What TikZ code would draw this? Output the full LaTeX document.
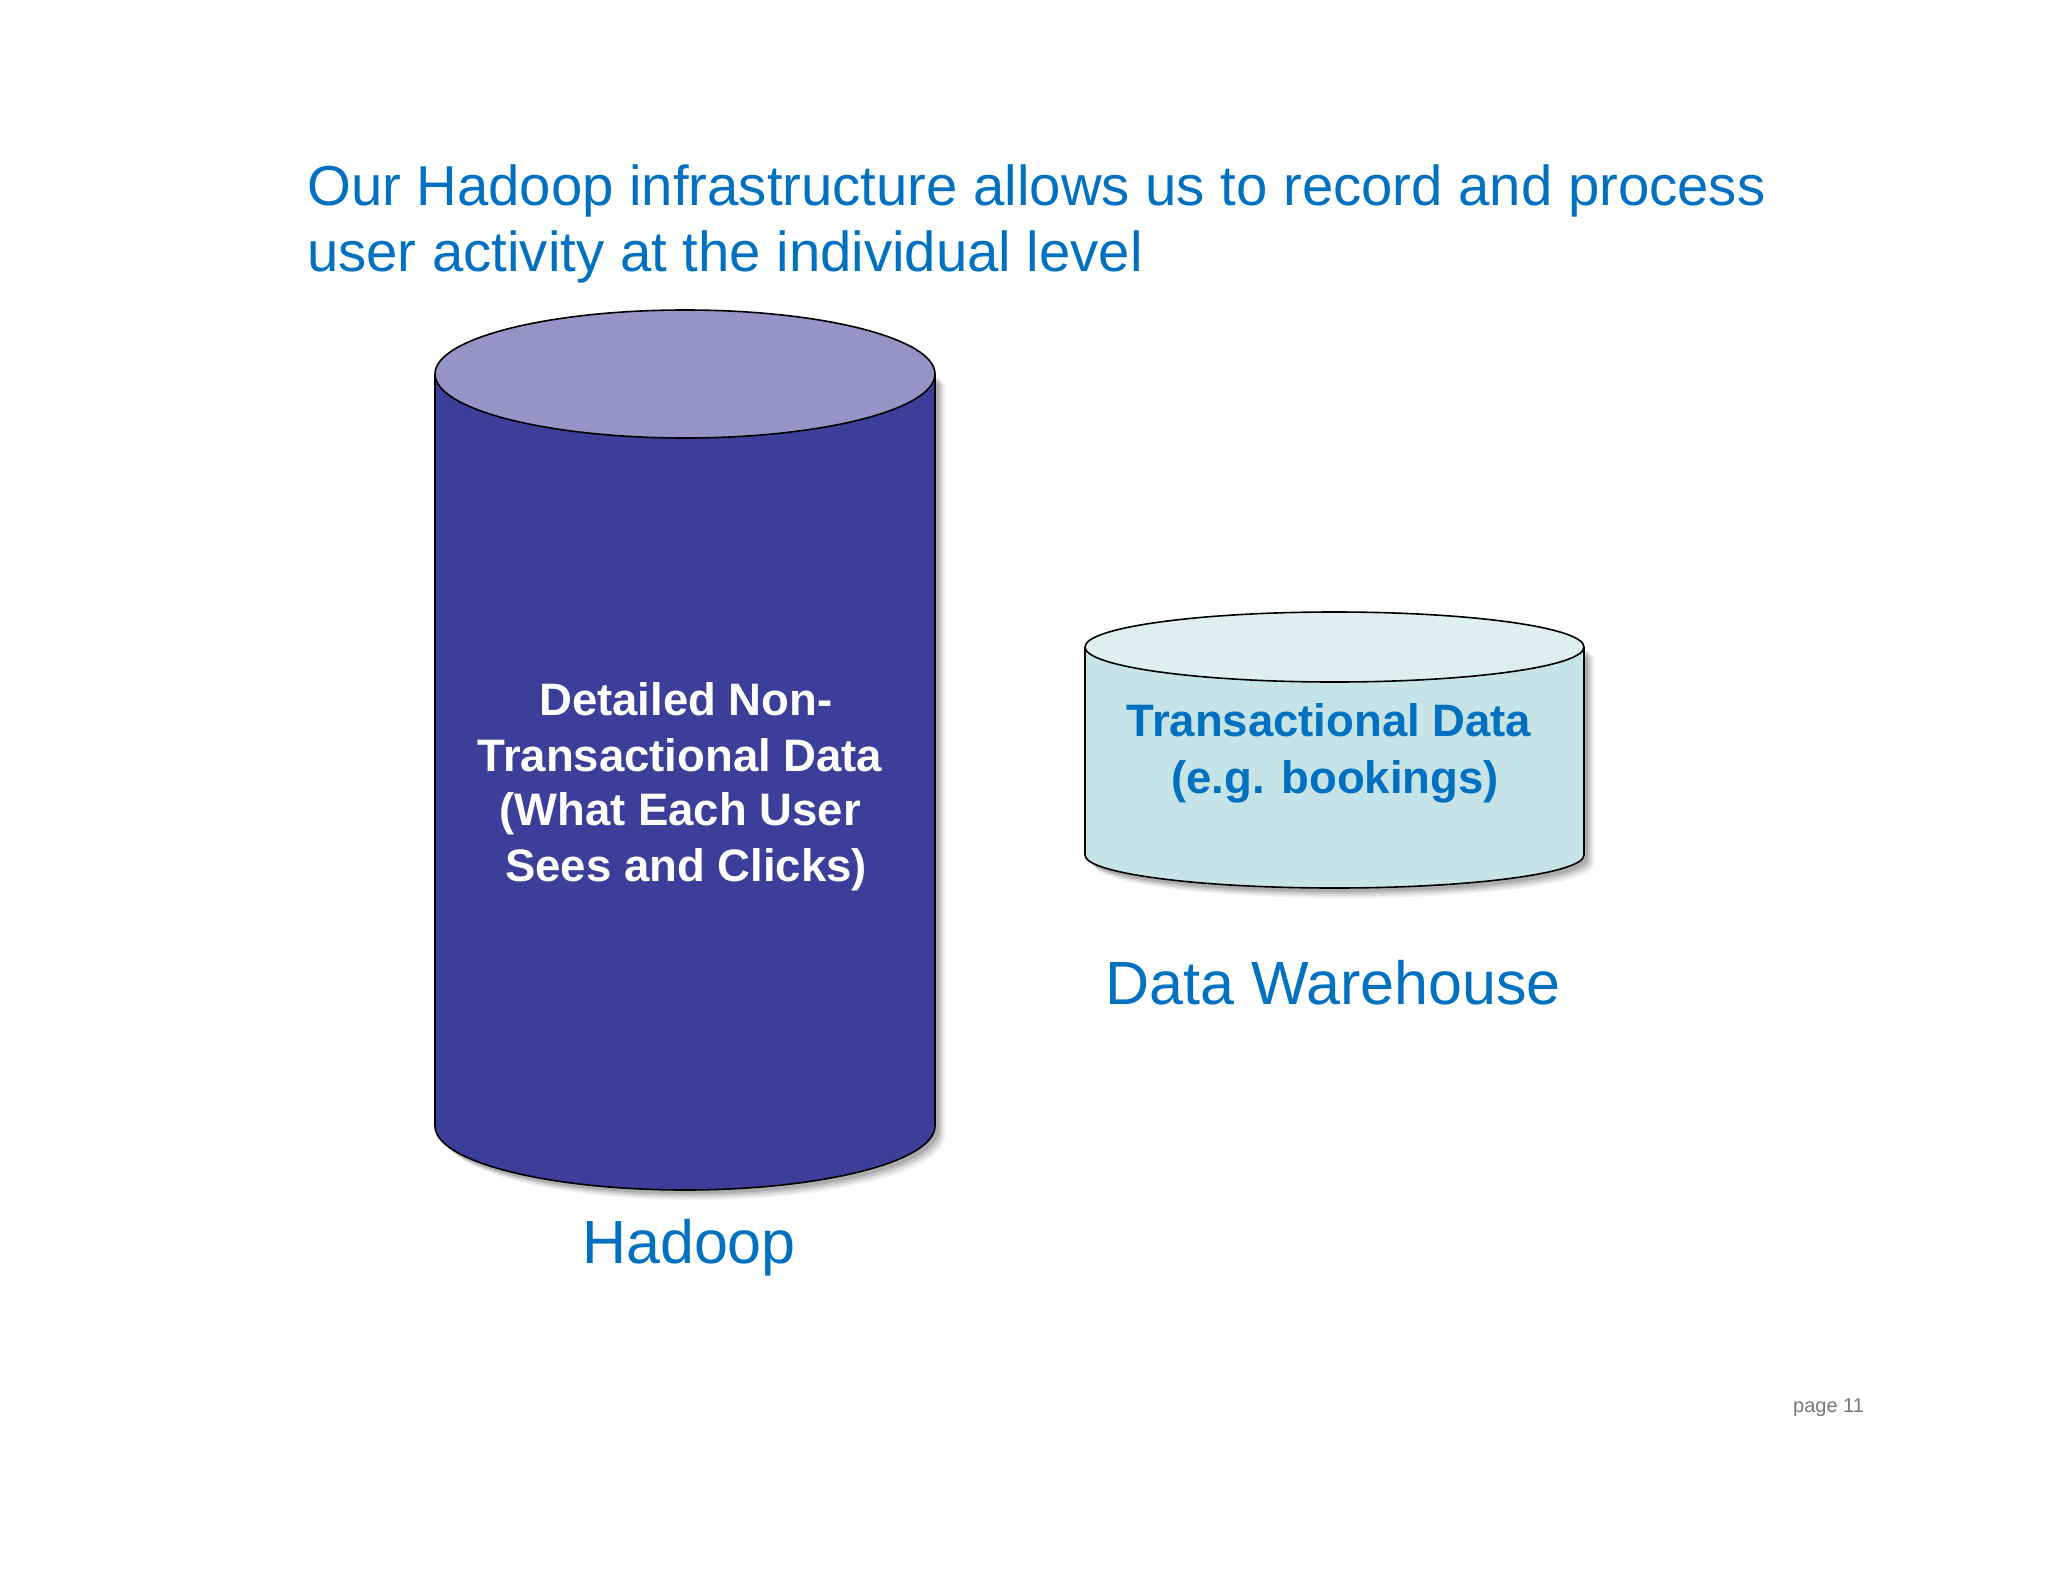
\documentclass[tikz,border=0pt]{standalone}
\usepackage{fontspec}
\setmainfont{Liberation Sans}
\definecolor{titleblue}{RGB}{0,112,192}
\definecolor{hbody}{RGB}{60,63,153}
\definecolor{htop}{RGB}{148,148,198}
\definecolor{dbody}{RGB}{198,228,232}
\definecolor{dtop}{RGB}{221,239,241}
\definecolor{pagegray}{RGB}{120,120,120}
\tikzset{
  title/.style={anchor=base west, inner sep=0pt, text=titleblue, font=\fontsize{56.3}{66}\selectfont},
  label/.style={anchor=base, inner sep=0pt, text=titleblue, font=\fontsize{61}{70}\selectfont},
  htext/.style={anchor=base, inner sep=0pt, text=white, font=\bfseries\fontsize{45.5}{55}\selectfont},
  dtext/.style={anchor=base, inner sep=0pt, text=titleblue, font=\bfseries\fontsize{45.5}{55}\selectfont},
  outline/.style={draw=black, line width=1.6pt},
}
\begin{document}
\begin{tikzpicture}[x=1pt, y=-1pt]
\fill[white] (0,0) rectangle (2048,1582);
\useasboundingbox (0,0) rectangle (2048,1582);

% Title
\node[title] (t1) at (307,205) {Our Hadoop infrastructure allows us to record and process};
\node[title] (t2) at (307,271) {user activity at the individual level};

% Hadoop cylinder shadow
\foreach \o/\op in {10/0.06,8/0.08,6/0.1,4/0.12}{
  \fill[black, opacity=\op] (435+\o,374+\o) -- (435+\o,1126+\o) arc[start angle=180, end angle=0, x radius=250, y radius=64] -- (935+\o,374+\o) -- cycle;
}
% Hadoop cylinder body
\fill[hbody] (435,374) -- (435,1126) arc[start angle=180, end angle=0, x radius=250, y radius=64] -- (935,374) -- cycle;
\draw[outline] (435,374) -- (435,1126) arc[start angle=180, end angle=0, x radius=250, y radius=64] -- (935,374);
\draw[outline, fill=htop] (685,374) ellipse [x radius=250, y radius=64];

\node[htext] (h1) at (686,715.5) {Detailed Non-};
\node[htext] (h2) at (680,771.5) {Transactional Data};
\node[htext] (h3) at (680,825.5) {(What Each User};
\node[htext] (h4) at (686,881.5) {Sees and Clicks)};

\node[label] (hl) at (689,1263) {Hadoop};

% Data warehouse cylinder shadow
\foreach \o/\op in {10/0.06,8/0.08,6/0.1,4/0.12}{
  \fill[black, opacity=\op] (1085+\o,647+\o) -- (1085+\o,855+\o) arc[start angle=180, end angle=0, x radius=249.5, y radius=33] -- (1584+\o,647+\o) -- cycle;
}
\fill[dbody] (1085,647) -- (1085,855) arc[start angle=180, end angle=0, x radius=249.5, y radius=33] -- (1584,647) -- cycle;
\draw[outline] (1085,647) -- (1085,855) arc[start angle=180, end angle=0, x radius=249.5, y radius=33] -- (1584,647);
\draw[outline, fill=dtop] (1334.5,647) ellipse [x radius=249.5, y radius=35];

\node[dtext] (d1) at (1329,736) {Transactional Data};
\node[dtext] (d2) at (1335,793) {(e.g. bookings)};

\node[label] (dl) at (1333,1004) {Data Warehouse};

\node[anchor=base west, inner sep=0pt, text=pagegray, font=\fontsize{20}{24}\selectfont] (pg) at (1793,1412) {page 11};
\end{tikzpicture}
\end{document}
